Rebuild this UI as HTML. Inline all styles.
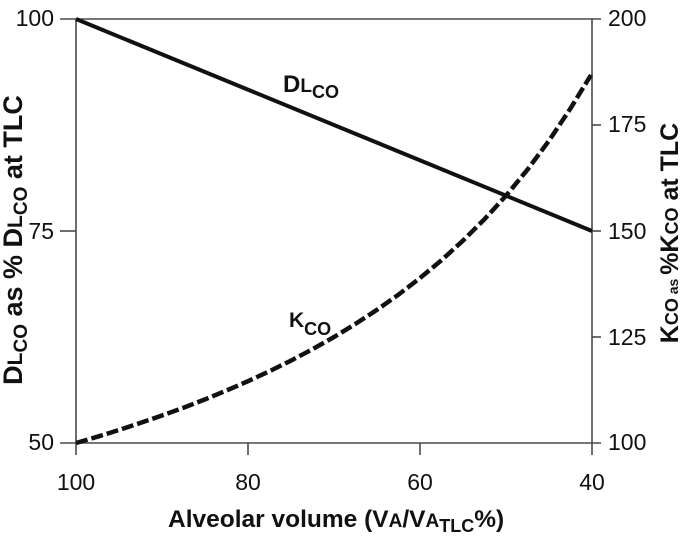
<!DOCTYPE html>
<html>
<head>
<meta charset="utf-8">
<style>
  html, body { margin:0; padding:0; background:#fff; }
  svg { display:block; }
  text { font-family: "Liberation Sans", Arial, sans-serif; fill:#111; }
</style>
</head>
<body>
<svg width="685" height="539" viewBox="0 0 685 539" xmlns="http://www.w3.org/2000/svg">
  <rect width="685" height="539" fill="#fff"/>
  <!-- axes / frame -->
  <g stroke="#4a4a4a" stroke-width="1.6" fill="none">
    <line x1="76" y1="19" x2="76" y2="455"/>
    <line x1="592" y1="19" x2="592" y2="455"/>
    <line x1="60" y1="19" x2="601" y2="19"/>
    <line x1="60" y1="443" x2="601" y2="443"/>
    <line x1="60" y1="231" x2="76" y2="231"/>
    <line x1="592" y1="125" x2="601" y2="125"/>
    <line x1="592" y1="231" x2="601" y2="231"/>
    <line x1="592" y1="337" x2="601" y2="337"/>
    <line x1="248" y1="443" x2="248" y2="455"/>
    <line x1="420" y1="443" x2="420" y2="455"/>
  </g>

  <!-- left tick labels -->
  <g font-size="23" text-anchor="end">
    <text x="54" y="26">100</text>
    <text x="54" y="239">75</text>
    <text x="54" y="450">50</text>
  </g>
  <!-- right tick labels -->
  <g font-size="23" text-anchor="start">
    <text x="608" y="26">200</text>
    <text x="608" y="132">175</text>
    <text x="608" y="239">150</text>
    <text x="608" y="345">125</text>
    <text x="608" y="450">100</text>
  </g>
  <!-- bottom tick labels -->
  <g font-size="23" text-anchor="middle">
    <text x="76" y="490">100</text>
    <text x="248" y="490">80</text>
    <text x="420" y="490">60</text>
    <text x="592" y="490">40</text>
  </g>

  <!-- DLCO solid line -->
  <line x1="76" y1="19" x2="592" y2="231" stroke="#111" stroke-width="4"/>

  <!-- KCO dashed curve -->
  <polyline fill="none" stroke="#111" stroke-width="4.5" stroke-dasharray="12 4"
    points="76,443 97.5,436.7 119,430 140.5,422.9 162,415.5 183.5,407.7 205,399.4 226.5,390.5 248,381.2 269.5,371.2 291,360.6 312.5,349.2 334,337 355.5,323.9 377,309.8 398.5,294.6 420,278.1 441.5,260.2 463,240.6 484.5,219.2 506,195.7 527.5,169.6 549,140.7 570.5,108.4 591,75"/>

  <!-- series labels -->
  <text x="283" y="92" font-size="24" font-weight="bold">D<tspan font-size="19">L</tspan><tspan font-size="18" dy="6">CO</tspan></text>
  <text x="289" y="327" font-size="21" font-weight="bold">K<tspan font-size="18" dy="8">CO</tspan></text>

  <!-- x axis title -->
  <text x="168" y="527" font-size="24.5" font-weight="bold">Alveolar volume (V<tspan font-size="19">A</tspan>/V<tspan font-size="19">A</tspan><tspan font-size="18" dy="5">TLC</tspan><tspan dy="-5">%)</tspan></text>

  <!-- left y axis title -->
  <text transform="translate(22,240) rotate(-90)" text-anchor="middle" font-size="27" font-weight="bold">D<tspan font-size="21">L</tspan><tspan font-size="19" dy="5">CO</tspan><tspan dy="-5"> as % D</tspan><tspan font-size="21">L</tspan><tspan font-size="19" dy="5">CO</tspan><tspan dy="-5"> at TLC</tspan></text>

  <!-- right y axis title -->
  <text transform="translate(678,233) rotate(-90)" text-anchor="middle" font-size="25" font-weight="bold">K<tspan font-size="18">CO</tspan><tspan font-size="14"> as </tspan>%K<tspan font-size="18">CO</tspan> at TLC</text>
</svg>
</body>
</html>
